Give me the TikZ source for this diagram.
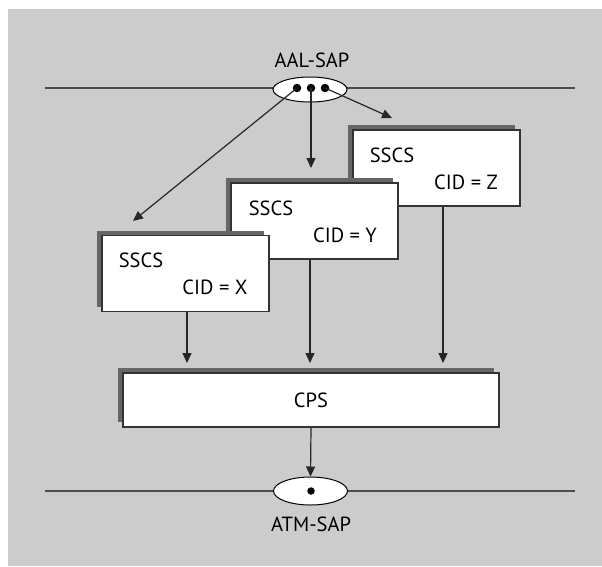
\documentclass[tikz,border=0pt]{standalone}
\usepackage{fontspec}
\setmainfont{PT Sans}
\usetikzlibrary{shapes.geometric,shadows,arrows.meta}
\begin{document}
\begin{tikzpicture}[x=1pt,y=-1pt,
  every node/.style={font=\fontsize{20.5}{24}\selectfont},
  sapline/.style={draw=black!70,line width=1.8pt},
  sap/.style={ellipse,draw=black,line width=1pt,fill=white,minimum width=74pt,minimum height=25pt,inner sep=0pt},
  dotn/.style={circle,fill=black,minimum size=8.5pt,inner sep=0pt},
  box/.style={draw=black!80,line width=1.1pt,fill=white,minimum width=167pt,minimum height=76pt,inner sep=0pt,
     general shadow={fill=black!60,shadow xshift=-5pt,shadow yshift=5pt}},
  arr/.style={draw=black!85,line width=1.2pt,-{Triangle[length=10pt,width=9pt]}},
  lbl/.style={inner sep=0pt,anchor=center}]
\useasboundingbox (0,0) rectangle (602,566);
\fill[black!20] (8,9) rectangle (602,566);
% lines
\coordinate (tl) at (45,88); \coordinate (tr) at (575,88);
\coordinate (bl) at (45,491); \coordinate (br) at (575,491);
\draw[sapline] (tl) -- (tr);
\draw[sapline] (bl) -- (br);
% SAPs
\node[sap] (aal) at (310,89.5) {};
\node[lbl] (aallbl) at (312,60) {AAL-SAP};
\node[dotn] (d1) at (297,88) {};
\node[dotn] (d2) at (311,88) {};
\node[dotn] (d3) at (325,88) {};
\node[sap,minimum height=28pt] (atm) at (310.5,491) {};
\node[dotn,minimum size=7.5pt] (d4) at (311,491) {};
\node[lbl] (atmlbl) at (311,524) {ATM-SAP};
% boxes
\node[box] (bz) at (436.5,168) {};
\node[lbl] (bzs) at (392,155) {SSCS};
\node[lbl] (bzc) at (466,182) {CID = Z};
\node[box] (by) at (314.5,221) {};
\node[lbl] (bys) at (271,208) {SSCS};
\node[lbl] (byc) at (345,235) {CID = Y};
\node[box] (bx) at (185.5,273.5) {};
\node[lbl] (bxs) at (141,260) {SSCS};
\node[lbl] (bxc) at (215,287) {CID = X};
\node[box,minimum width=376pt,minimum height=54pt] (cps) at (311,400) {CPS};
% arrow targets
\coordinate (tx) at (133,221);
\coordinate (ty) at (311,168);
\coordinate (tz) at (392,118);
\draw[arr] (d1.center) -- (tx);
\draw[arr] (d2.center) -- (ty);
\draw[arr] (d3.center) -- (tz);
\draw[arr] (bx.south -| 187,0) -- (187,363);
\draw[arr] (by.south -| 310,0) -- (310,363);
\draw[arr] (bz.south -| 443,0) -- (443,363);
\draw[arr] (cps.south) -- (atm.north);
\end{tikzpicture}
\end{document}
